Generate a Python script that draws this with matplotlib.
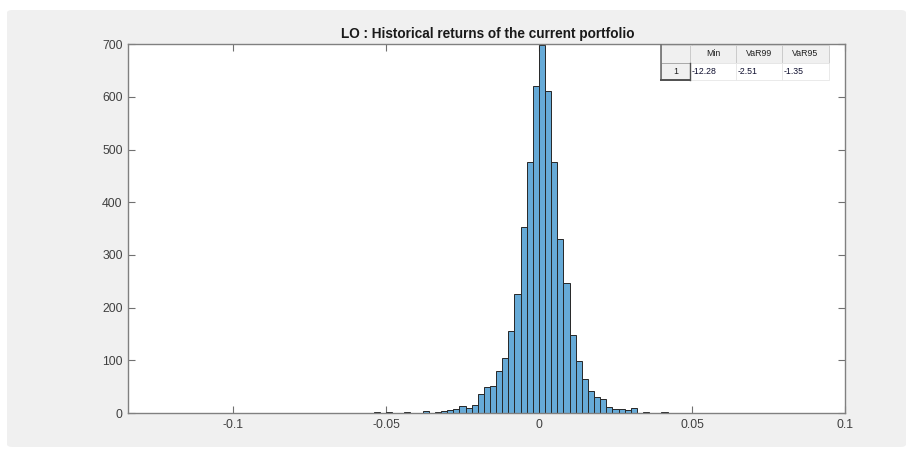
import matplotlib
matplotlib.use("Agg")
import matplotlib.pyplot as plt
import numpy as np
from matplotlib.patches import FancyBboxPatch, Rectangle
from matplotlib.lines import Line2D

plt.rcParams["font.family"] = ["Liberation Sans", "DejaVu Sans"]

# histogram counts, bins of width 0.002 starting at -0.054
bin_start = -0.054
bin_width = 0.002
counts = [
    1, 0, 1, 0, 0, 1, 0, 0, 3, 0,
    2, 3, 5, 8, 13, 10, 15, 36, 50, 52,
    80, 105, 156, 225, 353, 476, 620, 699, 611, 476,
    330, 247, 148, 99, 65, 41, 30, 27, 12, 7,
    7, 5, 9, 0, 1, 0, 0, 1,
]

x_ticks = [-0.1, -0.05, 0, 0.05, 0.1]
x_tick_labels = ["-0.1", "-0.05", "0", "0.05", "0.1"]
y_ticks = [0, 100, 200, 300, 400, 500, 600, 700]

title = "LO : Historical returns of the current portfolio"
col_labels = ["Min", "VaR99", "VaR95"]
row_labels = ["1"]
cell_values = [["-12.28", "-2.51", "-1.35"]]

W, H = 916, 449
fig = plt.figure(figsize=(W / 100, H / 100), dpi=100, facecolor="white")


def fx(x):
    return x / W


def fy(y):
    return 1 - y / H


# gray figure panel, behind everything
fig.patches.append(FancyBboxPatch(
    (fx(7), fy(447)), fx(906) - fx(7), fy(10) - fy(447),
    boxstyle="round,pad=0,rounding_size=0.006",
    transform=fig.transFigure, facecolor="#f0f0f0", edgecolor="none", zorder=-10))

ax = fig.add_axes([fx(128.3), fy(413), fx(845) - fx(128.3), fy(44.3) - fy(413)])
ax.set_facecolor("white")

edges = bin_start + bin_width * np.arange(len(counts))
counts = np.array(counts)
mask = counts > 0
ax.bar(edges[mask], counts[mask], width=bin_width, align="edge",
       color="#66aad7", edgecolor="#262626", linewidth=0.7, zorder=2)

ax.set_xlim(-0.1342, 0.1)
ax.set_ylim(0, 700)
ax.set_xticks(x_ticks)
ax.set_xticklabels(x_tick_labels)
ax.set_yticks(y_ticks)
ax.tick_params(direction="in", length=5, width=0.8, color="#707070",
               labelcolor="#404040", labelsize=8.8, top=True, right=True)
ax.tick_params(axis="x", pad=4.5)
ax.tick_params(axis="y", pad=4)
for s in ax.spines.values():
    s.set_color("#808080")
    s.set_linewidth(1.0)

fig.text(fx(488), fy(34), title, ha="center", va="center",
         fontsize=9.8, fontweight="bold", color="#1a1a1a")

# uitable-like box in the upper right
col_x = [660.7, 690, 736, 782, 829]
row_y = [44.5, 63.3, 80]


def cell(x0, x1, y0, y1, fc, ec):
    fig.patches.append(Rectangle((fx(x0), fy(y1)), fx(x1) - fx(x0), fy(y0) - fy(y1),
                                 transform=fig.transFigure, facecolor=fc,
                                 edgecolor=ec, linewidth=0.6, zorder=5))


cell(col_x[0], col_x[1], row_y[0], row_y[1], "#f0f0f0", "#c8c8c8")
for i, lab in enumerate(col_labels):
    cell(col_x[i + 1], col_x[i + 2], row_y[0], row_y[1], "#f0f0f0", "#c8c8c8")
    fig.text(fx((col_x[i + 1] + col_x[i + 2]) / 2), fy((row_y[0] + row_y[1]) / 2), lab,
             ha="center", va="center", fontsize=6.3, color="#202020", zorder=6)

cell(col_x[0], col_x[1], row_y[1], row_y[2], "#f0f0f0", "#a0a0a0")
fig.text(fx((col_x[0] + col_x[1]) / 2), fy((row_y[1] + row_y[2]) / 2), row_labels[0],
         ha="center", va="center", fontsize=6.3, color="#202020", zorder=6)
for i, val in enumerate(cell_values[0]):
    cell(col_x[i + 1], col_x[i + 2], row_y[1], row_y[2], "white", "#e6e6e6")
    fig.text(fx(col_x[i + 1] + 1.5), fy((row_y[1] + row_y[2]) / 2), val,
             ha="left", va="center", fontsize=6.3, color="#101030", zorder=6)

# darker left/bottom table frame and row header shading
for (xa, ya), (xb, yb), c, lw in [
    ((col_x[0], row_y[0]), (col_x[0], row_y[2]), "#707070", 1.2),
    ((col_x[0], row_y[2]), (col_x[1], row_y[2]), "#505050", 1.4),
    ((col_x[1], row_y[1]), (col_x[1], row_y[2]), "#505050", 1.0),
]:
    fig.add_artist(Line2D([fx(xa), fx(xb)], [fy(ya), fy(yb)], color=c,
                          linewidth=lw, transform=fig.transFigure, zorder=7))

fig.savefig("out.png", dpi=100, facecolor="white")
